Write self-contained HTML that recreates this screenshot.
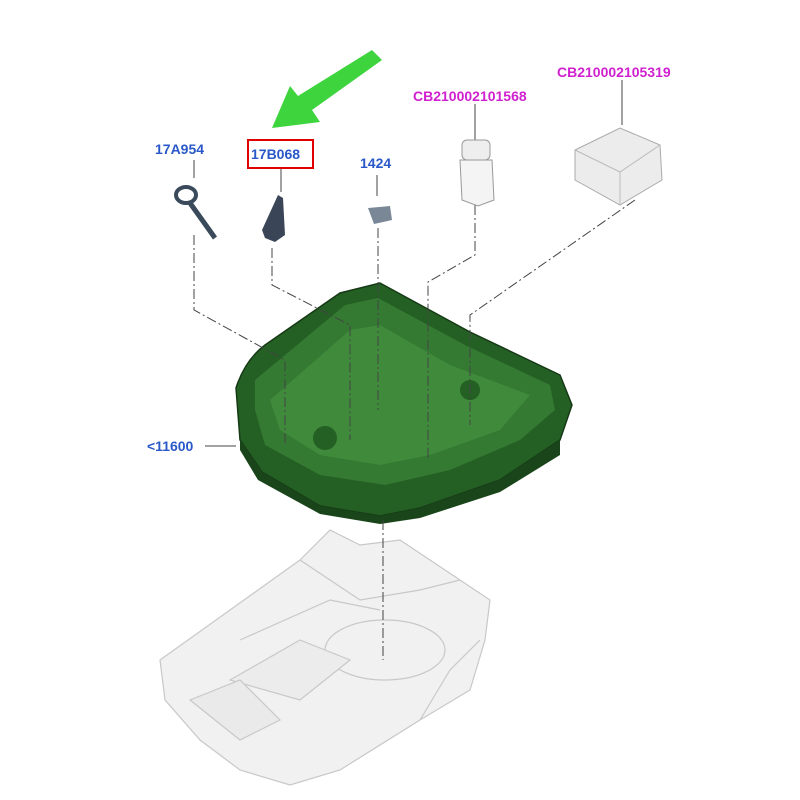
<!DOCTYPE html>
<html><head><meta charset="utf-8"><style>
html,body{margin:0;padding:0;background:#fff;width:800px;height:800px;overflow:hidden}
svg{display:block}
text{font-family:"Liberation Sans",sans-serif;font-weight:bold;font-size:14px}
</style></head><body>
<svg width="800" height="800" viewBox="0 0 800 800">
<!-- floor pan -->
<g fill="#f1f1f1" stroke="#c8c8c8" stroke-width="1.2">
<path d="M160,660 L230,610 L300,560 L330,530 L360,545 L400,540 L460,580 L490,600 L485,640 L470,690 L420,720 L340,770 L290,785 L240,770 L200,740 L165,700 Z"/>
<ellipse cx="385" cy="650" rx="60" ry="30"/>
<path d="M230,680 L300,640 L350,660 L300,700 Z" fill="#ececec"/>
<path d="M190,700 L240,680 L280,720 L240,740 Z" fill="#eaeaea"/>
<path d="M300,560 L360,600 L420,590 L460,580"/>
<path d="M240,640 L330,600 L380,610"/>
<path d="M420,720 L450,670 L480,640"/>
</g>
<!-- tray -->
<path d="M236,388 Q245,360 265,345 L340,293 L380,283 L470,332 L560,375 L572,405 L560,440 L500,480 L420,508 L380,516 L320,506 L262,472 L240,440 Z" fill="#245f24" stroke="#163a16" stroke-width="1.5"/>
<path d="M255,380 L345,305 L378,298 L465,345 L550,385 L555,410 L520,440 L450,470 L385,485 L320,475 L265,445 L255,410 Z" fill="#347a32"/>
<path d="M270,400 L350,330 L380,325 L450,365 L530,395 L500,430 L430,455 L380,465 L320,455 L280,430 Z" fill="#3f8a3b"/>
<path d="M240,440 L262,472 L320,506 L380,516 L420,508 L500,480 L560,440 L560,455 L500,492 L420,518 L380,524 L320,514 L258,480 L240,450 Z" fill="#1a451a"/>
<circle cx="325" cy="438" r="12" fill="#245f24"/>
<circle cx="470" cy="390" r="10" fill="#245f24"/>
<!-- leader lines -->
<g stroke="#444" stroke-width="1" fill="none" stroke-dasharray="10,3,2,3">
<path d="M194,235 L194,310 L285,360 L285,445"/>
<path d="M272,248 L272,285 L350,325 L350,440"/>
<path d="M378,228 L378,410"/>
<path d="M475,205 L475,255 L428,282 L428,460"/>
<path d="M635,200 L470,315 L470,425"/>
<path d="M383,520 L383,660"/>
</g>
<g stroke="#444" stroke-width="1">
<line x1="194" y1="160" x2="194" y2="178"/>
<line x1="281" y1="168" x2="281" y2="192"/>
<line x1="377" y1="175" x2="377" y2="196"/>
<line x1="475" y1="104" x2="475" y2="140"/>
<line x1="622" y1="80" x2="622" y2="125"/>
<line x1="205" y1="446" x2="236" y2="446"/>
</g>
<!-- parts -->
<g>
<ellipse cx="186" cy="195" rx="10" ry="8" fill="none" stroke="#3a4a5a" stroke-width="4"/>
<path d="M190,203 L215,238" stroke="#3a4a5a" stroke-width="5"/>
<path d="M278,195 L283,198 L285,235 L275,242 L265,238 L262,230 Z" fill="#3a4658"/>
<path d="M368,208 L390,206 L392,220 L374,224 Z" fill="#7a8797"/>
<rect x="462" y="140" width="28" height="20" rx="5" fill="#eee" stroke="#999"/>
<path d="M460,160 L492,160 L494,200 L478,206 L462,200 Z" fill="#f4f4f4" stroke="#999"/>
<path d="M575,150 L620,128 L660,145 L662,180 L620,205 L575,180 Z" fill="#ececec" stroke="#aaa"/>
<path d="M575,150 L620,172 L660,145 M620,172 L620,205" fill="none" stroke="#bbb"/>
</g>
<!-- green arrow -->
<path d="M372,50 L382,60 L312,110 L320,122 L272,128 L290,86 L298,96 Z" fill="#3dd43d"/>
<!-- labels -->
<rect x="248" y="140" width="65" height="28" fill="none" stroke="#e00000" stroke-width="2"/>
<text x="155" y="154" fill="#2a58c8">17A954</text>
<text x="251" y="159" fill="#2a58c8">17B068</text>
<text x="360" y="168" fill="#2a58c8">1424</text>
<text x="413" y="101" fill="#d020d0">CB210002101568</text>
<text x="557" y="77" fill="#d020d0">CB210002105319</text>
<text x="147" y="451" fill="#2a58c8">&lt;11600</text>
</svg>
</body></html>
